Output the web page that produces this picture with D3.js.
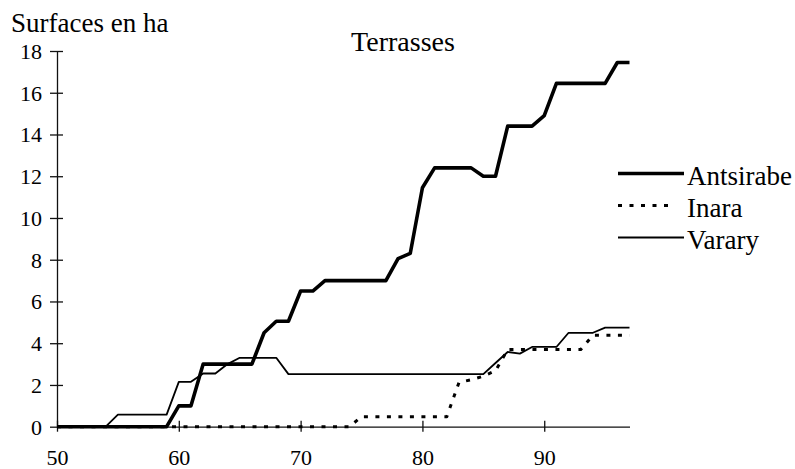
<!DOCTYPE html>
<html><head><meta charset="utf-8">
<script src="https://cdn.jsdelivr.net/npm/d3@7"></script>
<style>
html,body{margin:0;padding:0;background:#fff;}
svg{display:block;}
text{font-family:"Liberation Serif","Times New Roman",serif;fill:#000;}
</style></head>
<body>
<svg id="chart" width="795" height="469"></svg>
<script>
const years = [50,51,52,53,54,55,56,57,58,59,60,61,62,63,64,65,66,67,68,69,70,71,72,73,74,75,76,77,78,79,80,81,82,83,84,85,86,87,88,89,90,91,92,93,94,95,96,97];
const antsirabe = [0,0,0,0,0,0,0,0,0,0, 1.0,1.0,3.0,3.0,3.0,3.0,3.0,4.5,5.05,5.05, 6.5,6.5,7.0,7.0,7.0,7.0,7.0,7.0,8.05,8.3, 11.45,12.4,12.4,12.4,12.4,12.0,12.0,14.4,14.4,14.4, 14.9,16.45,16.45,16.45,16.45,16.45,17.45,17.45];
const inara = [0,0,0,0,0,0,0,0,0,0, 0,0,0,0,0,0,0,0,0,0, 0,0,0,0,0,0.48,0.48,0.48,0.48,0.48, 0.48,0.48,0.48,2.12,2.25,2.42,2.68,3.7,3.7,3.7, 3.7,3.7,3.7,3.7,4.38,4.38,4.38,4.38];
const varary = [0,0,0,0,0,0.58,0.58,0.58,0.58,0.58, 2.15,2.15,2.55,2.55,3.0,3.3,3.3,3.3,3.3,2.52, 2.52,2.52,2.52,2.52,2.52,2.52,2.52,2.52,2.52,2.52, 2.52,2.52,2.52,2.52,2.52,2.52,3.05,3.58,3.5,3.82, 3.82,3.82,4.5,4.5,4.5,4.75,4.75,4.75];
const yTicks = [0,2,4,6,8,10,12,14,16,18];
const xTicks = [50,60,70,80,90];
const seriesNames = ["Antsirabe","Inara","Varary"];
const title = "Terrasses";
const yTitle = "Surfaces en ha";

const styles = {
  "Antsirabe": {w:3.6, dash:null},
  "Inara": {w:3, dash:"4,7.5"},
  "Varary": {w:1.8, dash:null}
};
const seriesVals = {"Antsirabe":antsirabe,"Inara":inara,"Varary":varary};

const svg = d3.select("#chart");
const x = d3.scaleLinear().domain([50,97]).range([57,629.5]);
const y = d3.scaleLinear().domain([0,18]).range([426.7,51]);

// axes
const yAxis = d3.axisLeft(y).tickValues(yTicks).tickSizeOuter(0).tickSizeInner(7);
const gy = svg.append("g").attr("transform",`translate(${x(50)},0)`).call(yAxis);
gy.select(".domain").attr("stroke","#111").attr("stroke-width",1.3);
gy.selectAll(".tick line").attr("x1",-7).attr("x2",6).attr("stroke","#111").attr("stroke-width",1.3);
gy.selectAll(".tick text").attr("x",-15).attr("dy","0.34em").style("font-size","22px").style("font-family","Liberation Serif").attr("fill","#000");

const xAxis = d3.axisBottom(x).tickValues(xTicks).tickSizeOuter(0).tickSizeInner(6);
const gx = svg.append("g").attr("transform",`translate(0,${y(0)})`).call(xAxis);
gx.select(".domain").attr("stroke","#111").attr("stroke-width",1.3);
gx.selectAll(".tick line").attr("y1",-6).attr("y2",5).attr("stroke","#111").attr("stroke-width",1.3);
gx.selectAll(".tick text").attr("y",38.5).attr("dy",0).style("font-size","22px").style("font-family","Liberation Serif").attr("fill","#000");

// lines
const line = d3.line().x((d,i)=>x(years[i])).y(d=>y(d));
["Inara","Varary","Antsirabe"].forEach(name=>{
  const s = styles[name];
  svg.append("path").datum(seriesVals[name])
    .attr("d",line).attr("fill","none").attr("stroke","#000")
    .attr("stroke-width",s.w).attr("stroke-linejoin","round")
    .attr("stroke-dasharray",s.dash);
});

// titles
svg.append("text").attr("x",11).attr("y",32).style("font-size","27px").text(yTitle);
svg.append("text").attr("x",403).attr("y",51).attr("text-anchor","middle").style("font-size","28px").text(title);

// legend
const ly = d3.scalePoint().domain(seriesNames).range([173.5,237.5]);
const lg = svg.append("g");
seriesNames.forEach(name=>{
  const s = styles[name];
  lg.append("line").attr("x1",618).attr("x2",name==="Inara"?672:684)
    .attr("y1",ly(name)).attr("y2",ly(name))
    .attr("stroke","#000").attr("stroke-width",s.w).attr("stroke-dasharray",s.dash);
  lg.append("text").attr("x",687).attr("y",ly(name)+11.5).style("font-size","27px").text(name);
});
</script>
</body></html>
